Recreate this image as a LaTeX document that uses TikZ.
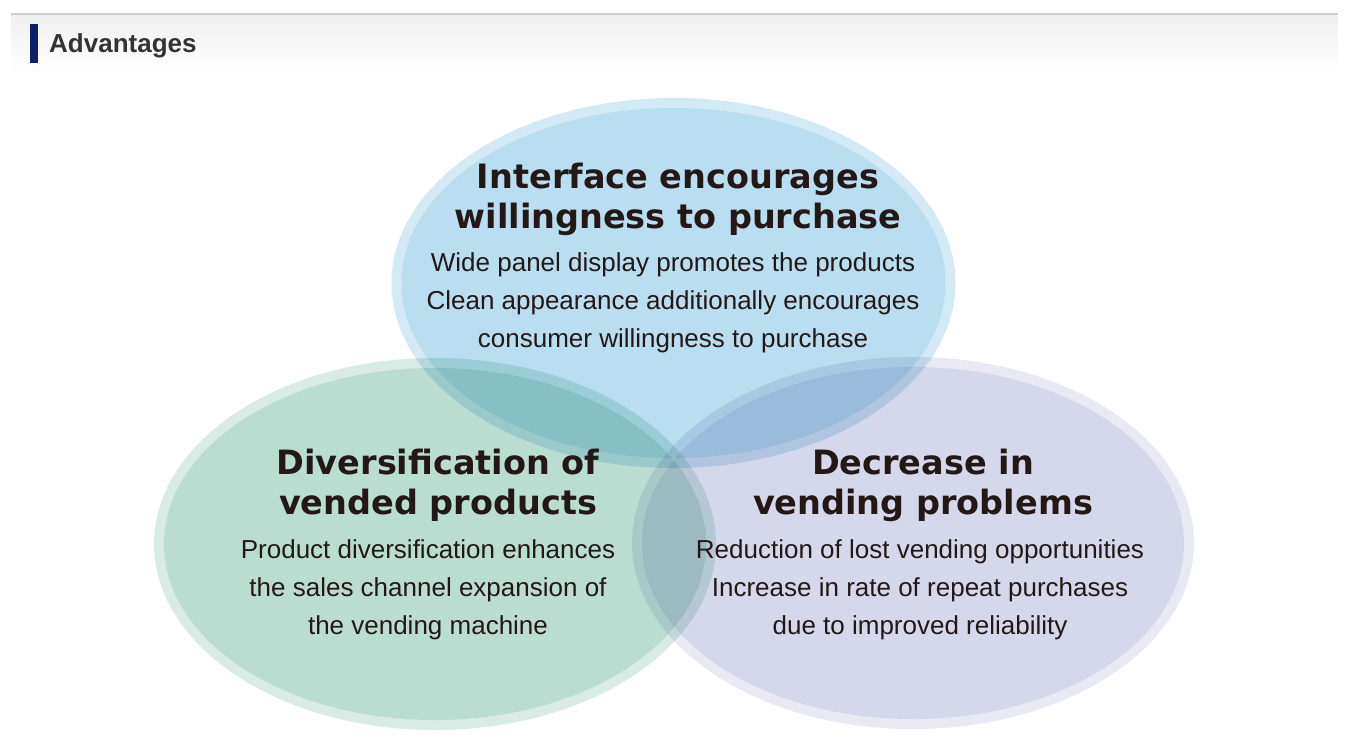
\documentclass[tikz,border=0pt]{standalone}
\usepackage{fontspec}
\setmainfont{Liberation Sans}
\newfontfamily\titlefont{DejaVu Sans}
\definecolor{barnavy}{RGB}{12, 30, 110}
\definecolor{headgray}{RGB}{51, 51, 51}
\definecolor{rulegray}{RGB}{204, 204, 204}
\definecolor{inkblack}{RGB}{35, 24, 21}
\definecolor{skyfill}{RGB}{184, 222, 240}
\definecolor{skyring}{RGB}{211, 234, 245}
\definecolor{mintfill}{RGB}{186, 221, 210}
\definecolor{mintring}{RGB}{216, 236, 229}
\definecolor{lilacfill}{RGB}{213, 216, 234}
\definecolor{lilacring}{RGB}{232, 233, 243}
\usetikzlibrary{positioning}
\tikzset{
  bigtitle/.style={text=inkblack, align=center, inner sep=0pt, font=\titlefont\bfseries\fontsize{33.5}{40}\selectfont},
  smalltext/.style={text=inkblack, align=center, inner sep=0pt, font=\fontsize{26}{38}\selectfont}
}

\begin{document}
\begin{tikzpicture}[x=1pt, y=-1pt]
  \useasboundingbox (0,0) rectangle (1356,750);

  % Header
  \shade[top color=black!6, bottom color=white] (11,15) rectangle (1338,75);
  \draw[rulegray, line width=2pt] (11,14) -- (1338,14);
  \fill[barnavy] (30,24) rectangle (37.5,62.5);
  \node[anchor=base west, inner sep=0pt, text=headgray, font=\bfseries\fontsize{26}{30}\selectfont] (head) at (49,52) {Advantages};

  % Circles
  \begin{scope}[blend mode=multiply]
    \fill[skyring, even odd rule] (673.5,283) ellipse (282 and 185) (673.5,283) ellipse (272 and 175);
    \fill[skyfill] (673.5,283) ellipse (272 and 175);
    \fill[mintring, even odd rule] (435,544) ellipse (281 and 186) (435,544) ellipse (271 and 176);
    \fill[mintfill] (435,544) ellipse (271 and 176);
    \fill[lilacring, even odd rule] (913,543) ellipse (281 and 186) (913,543) ellipse (271 and 176);
    \fill[lilacfill] (913,543) ellipse (271 and 176);
  \end{scope}

  % Interface
  \node[bigtitle] (interfacetitle) at (678,199) {Interface encourages\\willingness to purchase};
  \node[smalltext] (interfacetext) at (673,303) {Wide panel display promotes the products\\Clean appearance additionally encourages\\consumer willingness to purchase};

  % Diversification
  \node[bigtitle] (diversetitle) at (438,485) {Diversification of\\vended products};
  \node[smalltext] (diversetext) at (428,590) {Product diversification enhances\\the sales channel expansion of\\the vending machine};

  % Decrease
  \node[bigtitle] (decreasetitle) at (923,485) {Decrease in\\vending problems};
  \node[smalltext] (decreasetext) at (920,590) {Reduction of lost vending opportunities\\Increase in rate of repeat purchases\\due to improved reliability};
\end{tikzpicture}
\end{document}
